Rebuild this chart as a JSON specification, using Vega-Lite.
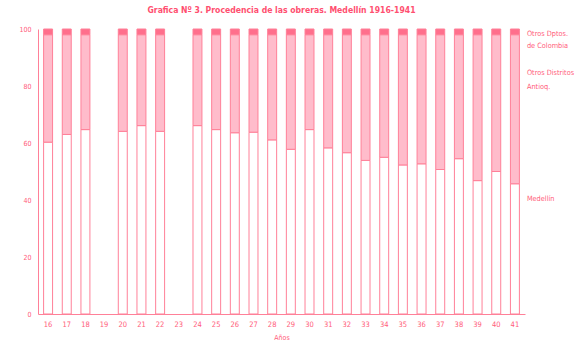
{
  "$schema": "https://vega.github.io/schema/vega-lite/v6.json",
  "width": 487,
  "height": 285,
  "autosize": {"type": "none"},
  "padding": {"left": 38, "top": 29, "right": 50, "bottom": 32},
  "background": "white",
  "config": {
    "view": {"stroke": null},
    "font": "Liberation Sans Narrow, DejaVu Sans Condensed, sans-serif"
  },
  "title": {
    "text": "Grafica Nº 3. Procedencia de las obreras. Medellín 1916-1941",
    "fontSize": 8.6,
    "fontWeight": "bold",
    "color": "#ff4f70",
    "offset": 10,
    "anchor": "middle",
    "font": "Liberation Sans Narrow, DejaVu Sans Condensed, sans-serif"
  },
  "datasets": {
    "bars": [
      {"year": "16", "origen": "Medellín", "valor": 60.3},
      {"year": "16", "origen": "Otros Distritos Antioq.", "valor": 37.7},
      {"year": "16", "origen": "Otros Dptos. de Colombia", "valor": 2},
      {"year": "17", "origen": "Medellín", "valor": 63},
      {"year": "17", "origen": "Otros Distritos Antioq.", "valor": 35},
      {"year": "17", "origen": "Otros Dptos. de Colombia", "valor": 2},
      {"year": "18", "origen": "Medellín", "valor": 64.7},
      {"year": "18", "origen": "Otros Distritos Antioq.", "valor": 33.3},
      {"year": "18", "origen": "Otros Dptos. de Colombia", "valor": 2},
      {"year": "20", "origen": "Medellín", "valor": 64.1},
      {"year": "20", "origen": "Otros Distritos Antioq.", "valor": 33.9},
      {"year": "20", "origen": "Otros Dptos. de Colombia", "valor": 2},
      {"year": "21", "origen": "Medellín", "valor": 66.1},
      {"year": "21", "origen": "Otros Distritos Antioq.", "valor": 31.9},
      {"year": "21", "origen": "Otros Dptos. de Colombia", "valor": 2},
      {"year": "22", "origen": "Medellín", "valor": 64.1},
      {"year": "22", "origen": "Otros Distritos Antioq.", "valor": 33.9},
      {"year": "22", "origen": "Otros Dptos. de Colombia", "valor": 2},
      {"year": "24", "origen": "Medellín", "valor": 66.1},
      {"year": "24", "origen": "Otros Distritos Antioq.", "valor": 31.9},
      {"year": "24", "origen": "Otros Dptos. de Colombia", "valor": 2},
      {"year": "25", "origen": "Medellín", "valor": 64.7},
      {"year": "25", "origen": "Otros Distritos Antioq.", "valor": 33.3},
      {"year": "25", "origen": "Otros Dptos. de Colombia", "valor": 2},
      {"year": "26", "origen": "Medellín", "valor": 63.6},
      {"year": "26", "origen": "Otros Distritos Antioq.", "valor": 34.4},
      {"year": "26", "origen": "Otros Dptos. de Colombia", "valor": 2},
      {"year": "27", "origen": "Medellín", "valor": 63.8},
      {"year": "27", "origen": "Otros Distritos Antioq.", "valor": 34.2},
      {"year": "27", "origen": "Otros Dptos. de Colombia", "valor": 2},
      {"year": "28", "origen": "Medellín", "valor": 61.1},
      {"year": "28", "origen": "Otros Distritos Antioq.", "valor": 36.9},
      {"year": "28", "origen": "Otros Dptos. de Colombia", "valor": 2},
      {"year": "29", "origen": "Medellín", "valor": 57.8},
      {"year": "29", "origen": "Otros Distritos Antioq.", "valor": 40.2},
      {"year": "29", "origen": "Otros Dptos. de Colombia", "valor": 2},
      {"year": "30", "origen": "Medellín", "valor": 64.7},
      {"year": "30", "origen": "Otros Distritos Antioq.", "valor": 33.3},
      {"year": "30", "origen": "Otros Dptos. de Colombia", "valor": 2},
      {"year": "31", "origen": "Medellín", "valor": 58.3},
      {"year": "31", "origen": "Otros Distritos Antioq.", "valor": 39.7},
      {"year": "31", "origen": "Otros Dptos. de Colombia", "valor": 2},
      {"year": "32", "origen": "Medellín", "valor": 56.6},
      {"year": "32", "origen": "Otros Distritos Antioq.", "valor": 41.4},
      {"year": "32", "origen": "Otros Dptos. de Colombia", "valor": 2},
      {"year": "33", "origen": "Medellín", "valor": 53.9},
      {"year": "33", "origen": "Otros Distritos Antioq.", "valor": 44.1},
      {"year": "33", "origen": "Otros Dptos. de Colombia", "valor": 2},
      {"year": "34", "origen": "Medellín", "valor": 55},
      {"year": "34", "origen": "Otros Distritos Antioq.", "valor": 43},
      {"year": "34", "origen": "Otros Dptos. de Colombia", "valor": 2},
      {"year": "35", "origen": "Medellín", "valor": 52.3},
      {"year": "35", "origen": "Otros Distritos Antioq.", "valor": 45.7},
      {"year": "35", "origen": "Otros Dptos. de Colombia", "valor": 2},
      {"year": "36", "origen": "Medellín", "valor": 52.7},
      {"year": "36", "origen": "Otros Distritos Antioq.", "valor": 45.3},
      {"year": "36", "origen": "Otros Dptos. de Colombia", "valor": 2},
      {"year": "37", "origen": "Medellín", "valor": 50.7},
      {"year": "37", "origen": "Otros Distritos Antioq.", "valor": 47.3},
      {"year": "37", "origen": "Otros Dptos. de Colombia", "valor": 2},
      {"year": "38", "origen": "Medellín", "valor": 54.5},
      {"year": "38", "origen": "Otros Distritos Antioq.", "valor": 43.5},
      {"year": "38", "origen": "Otros Dptos. de Colombia", "valor": 2},
      {"year": "39", "origen": "Medellín", "valor": 46.8},
      {"year": "39", "origen": "Otros Distritos Antioq.", "valor": 51.2},
      {"year": "39", "origen": "Otros Dptos. de Colombia", "valor": 2},
      {"year": "40", "origen": "Medellín", "valor": 50},
      {"year": "40", "origen": "Otros Distritos Antioq.", "valor": 48},
      {"year": "40", "origen": "Otros Dptos. de Colombia", "valor": 2},
      {"year": "41", "origen": "Medellín", "valor": 45.7},
      {"year": "41", "origen": "Otros Distritos Antioq.", "valor": 52.3},
      {"year": "41", "origen": "Otros Dptos. de Colombia", "valor": 2}
    ],
    "labels": [
      {"label": "Otros Dptos.", "pos": 98.4},
      {"label": "de Colombia", "pos": 93.9},
      {"label": "Otros Distritos", "pos": 84.4},
      {"label": "Antioq.", "pos": 79.5},
      {"label": "Medellín", "pos": 40.5}
    ]
  },
  "layer": [
    {
      "data": {"name": "bars"},
      "mark": {"type": "bar", "stroke": "#ff8098", "strokeWidth": 1},
      "encoding": {
        "x": {
          "field": "year",
          "type": "ordinal",
          "scale": {
            "domain": ["16","17","18","19","20","21","22","23","24","25","26","27","28","29","30","31","32","33","34","35","36","37","38","39","40","41"],
            "paddingInner": 0.52,
            "paddingOuter": 0.3
          },
          "axis": {
            "title": "Años",
            "titleFontSize": 7,
            "titleFontWeight": "normal",
            "titleColor": "#ff5c7a",
            "titlePadding": 6,
            "labelAngle": 0,
            "labelFontSize": 7.5,
            "labelColor": "#ff5c7a",
            "labelPadding": 6,
            "ticks": false,
            "domainColor": "#ff8098",
            "domainWidth": 1
          }
        },
        "y": {
          "field": "valor",
          "type": "quantitative",
          "stack": "zero",
          "scale": {"domain": [0, 100], "nice": false},
          "axis": {
            "title": null,
            "values": [0, 20, 40, 60, 80, 100],
            "grid": false,
            "ticks": false,
            "labelFontSize": 7,
            "labelColor": "#ff5c7a",
            "labelPadding": 7,
            "domainColor": "#ff8098",
            "domainWidth": 1
          }
        },
        "color": {
          "field": "origen",
          "type": "nominal",
          "scale": {
            "domain": ["Medellín", "Otros Distritos Antioq.", "Otros Dptos. de Colombia"],
            "range": ["#ffffff", "#ffbccb", "#ff6f8c"]
          },
          "legend": null
        },
        "order": {"field": "origen", "sort": "ascending"}
      }
    },
    {
      "data": {"name": "labels"},
      "mark": {"type": "text", "align": "left", "baseline": "middle", "dx": 12, "fontSize": 7.3, "color": "#ff5c7a"},
      "encoding": {
        "x": {"datum": "41", "type": "ordinal"},
        "y": {"field": "pos", "type": "quantitative"},
        "text": {"field": "label"}
      }
    }
  ]
}
